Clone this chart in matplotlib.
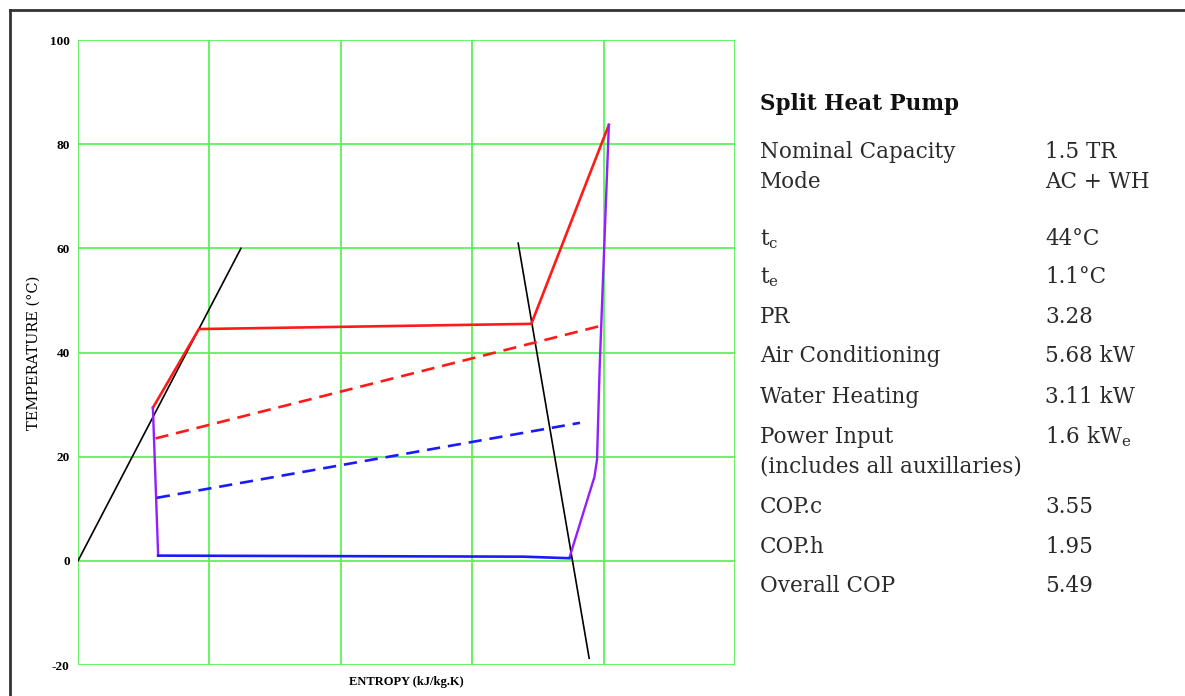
import matplotlib
matplotlib.use("Agg")
import matplotlib.pyplot as plt
from matplotlib.lines import Line2D

plt.rcParams["font.family"] = ["Liberation Serif", "DejaVu Serif"]
plt.rcParams["mathtext.fontset"] = "custom"
plt.rcParams["mathtext.rm"] = "DejaVu Serif"
plt.rcParams["mathtext.it"] = "DejaVu Serif:italic"
plt.rcParams["axes.unicode_minus"] = False

# --- data (entropy in grid units, temperature in degC)
sat_liquid_s = [0.0, 1.24]
sat_liquid_t = [0.0, 60.0]
sat_vapour_s = [3.35, 3.89]
sat_vapour_t = [61.0, -18.7]

condenser_s = [0.57, 0.92, 3.45, 4.04]
condenser_t = [29.4, 44.5, 45.5, 83.7]
compression_s = [4.04, 3.97, 3.95, 3.93, 3.74]
compression_t = [83.7, 37.2, 19.4, 16.1, 0.6]
expansion_s = [0.57, 0.61]
expansion_t = [29.4, 1.0]
evaporator_s = [0.61, 3.39, 3.74]
evaporator_t = [1.0, 0.8, 0.5]

water_s = [0.59, 3.96]
water_t = [23.5, 45.0]
air_s = [0.60, 3.82]
air_t = [12.1, 26.5]

y_ticks = [-20, 0, 20, 40, 60, 80, 100]
x_grid = [0, 1, 2, 3, 4, 5]

title = "Split Heat Pump"
spec_labels = ["Nominal Capacity", "Mode", r"t$_{\mathrm{c}}$", r"t$_{\mathrm{e}}$", "PR",
               "Air Conditioning", "Water Heating", "Power Input",
               "(includes all auxillaries)", "COP.c", "COP.h", "Overall COP"]
spec_values = ["1.5 TR", "AC + WH", "44°C", "1.1°C", "3.28", "5.68 kW", "3.11 kW",
               r"1.6 kW$_{\mathrm{e}}$", "", "3.55", "1.95", "5.49"]
# baselines of the text rows, pixels from top
spec_rows_px = [158, 188, 245, 283, 323, 362, 403, 443, 472, 513, 553, 592]

W, H = 1185, 696
fig = plt.figure(figsize=(W / 100, H / 100), dpi=100)
fig.patch.set_facecolor("white")

ax = fig.add_axes([78 / W, (H - 665) / H, (735 - 78) / W, (665 - 40) / H])
ax.set_xlim(0, 5)
ax.set_ylim(-20, 100)

green = "#5cf25c"
for s in x_grid:
    ax.axvline(s, color=green, lw=1.3, zorder=1)
for t in y_ticks:
    ax.axhline(t, color=green, lw=1.3, zorder=1)
for sp in ax.spines.values():
    sp.set_visible(False)

ax.set_xticks([])
ax.set_yticks(y_ticks)
ax.tick_params(axis="y", length=0, pad=6)
for lbl in ax.get_yticklabels():
    lbl.set_fontsize(9.5)
    lbl.set_fontweight("bold")

# saturation dome
ax.plot(sat_liquid_s, sat_liquid_t, color="black", lw=1.2, zorder=3)
ax.plot(sat_vapour_s, sat_vapour_t, color="black", lw=1.2, zorder=3)

# cycle
ax.plot(condenser_s, condenser_t, color="#ff1a1a", lw=1.9, zorder=4)
ax.plot(compression_s, compression_t, color="#9020ff", lw=1.7, zorder=4)
ax.plot(expansion_s, expansion_t, color="#9020ff", lw=1.7, zorder=4)
ax.plot(evaporator_s, evaporator_t, color="#1a1aff", lw=1.9, zorder=4)

# water and air streams
ax.plot(water_s, water_t, color="#ff1a1a", lw=1.9, ls=(0, (5, 3)), zorder=4)
ax.plot(air_s, air_t, color="#1a1aff", lw=1.9, ls=(0, (5, 3)), zorder=4)

ax.text(-0.34, 40, "TEMPERATURE (°C)", rotation=90, ha="center", va="center",
        fontsize=10.5, family=["DejaVu Serif"], transform=ax.transData)
ax.set_xlabel("ENTROPY (kJ/kg.K)", fontsize=9, fontweight="bold", labelpad=8)

# spec table on the right
panel_font = ["DejaVu Serif"]
fig.text(760 / W, 1 - 110 / H, title, fontsize=15.5, fontweight="bold", va="baseline",
         family=panel_font, color="#111111")
for lab, val, ypx in zip(spec_labels, spec_values, spec_rows_px):
    fig.text(760 / W, 1 - ypx / H, lab, fontsize=15.5, va="baseline", color="#2a2a2a",
             family=panel_font)
    if val:
        fig.text(1045 / W, 1 - ypx / H, val, fontsize=15.5, va="baseline", color="#2a2a2a",
                 family=panel_font)

# outer frame (top and left edges visible)
fig.add_artist(Line2D([9.5 / W, 1], [1 - 9.5 / H, 1 - 9.5 / H], color="#333333", lw=2,
                      transform=fig.transFigure))
fig.add_artist(Line2D([9.5 / W, 9.5 / W], [0, 1 - 9.5 / H], color="#333333", lw=2,
                      transform=fig.transFigure))

fig.savefig("out.png", dpi=100)
